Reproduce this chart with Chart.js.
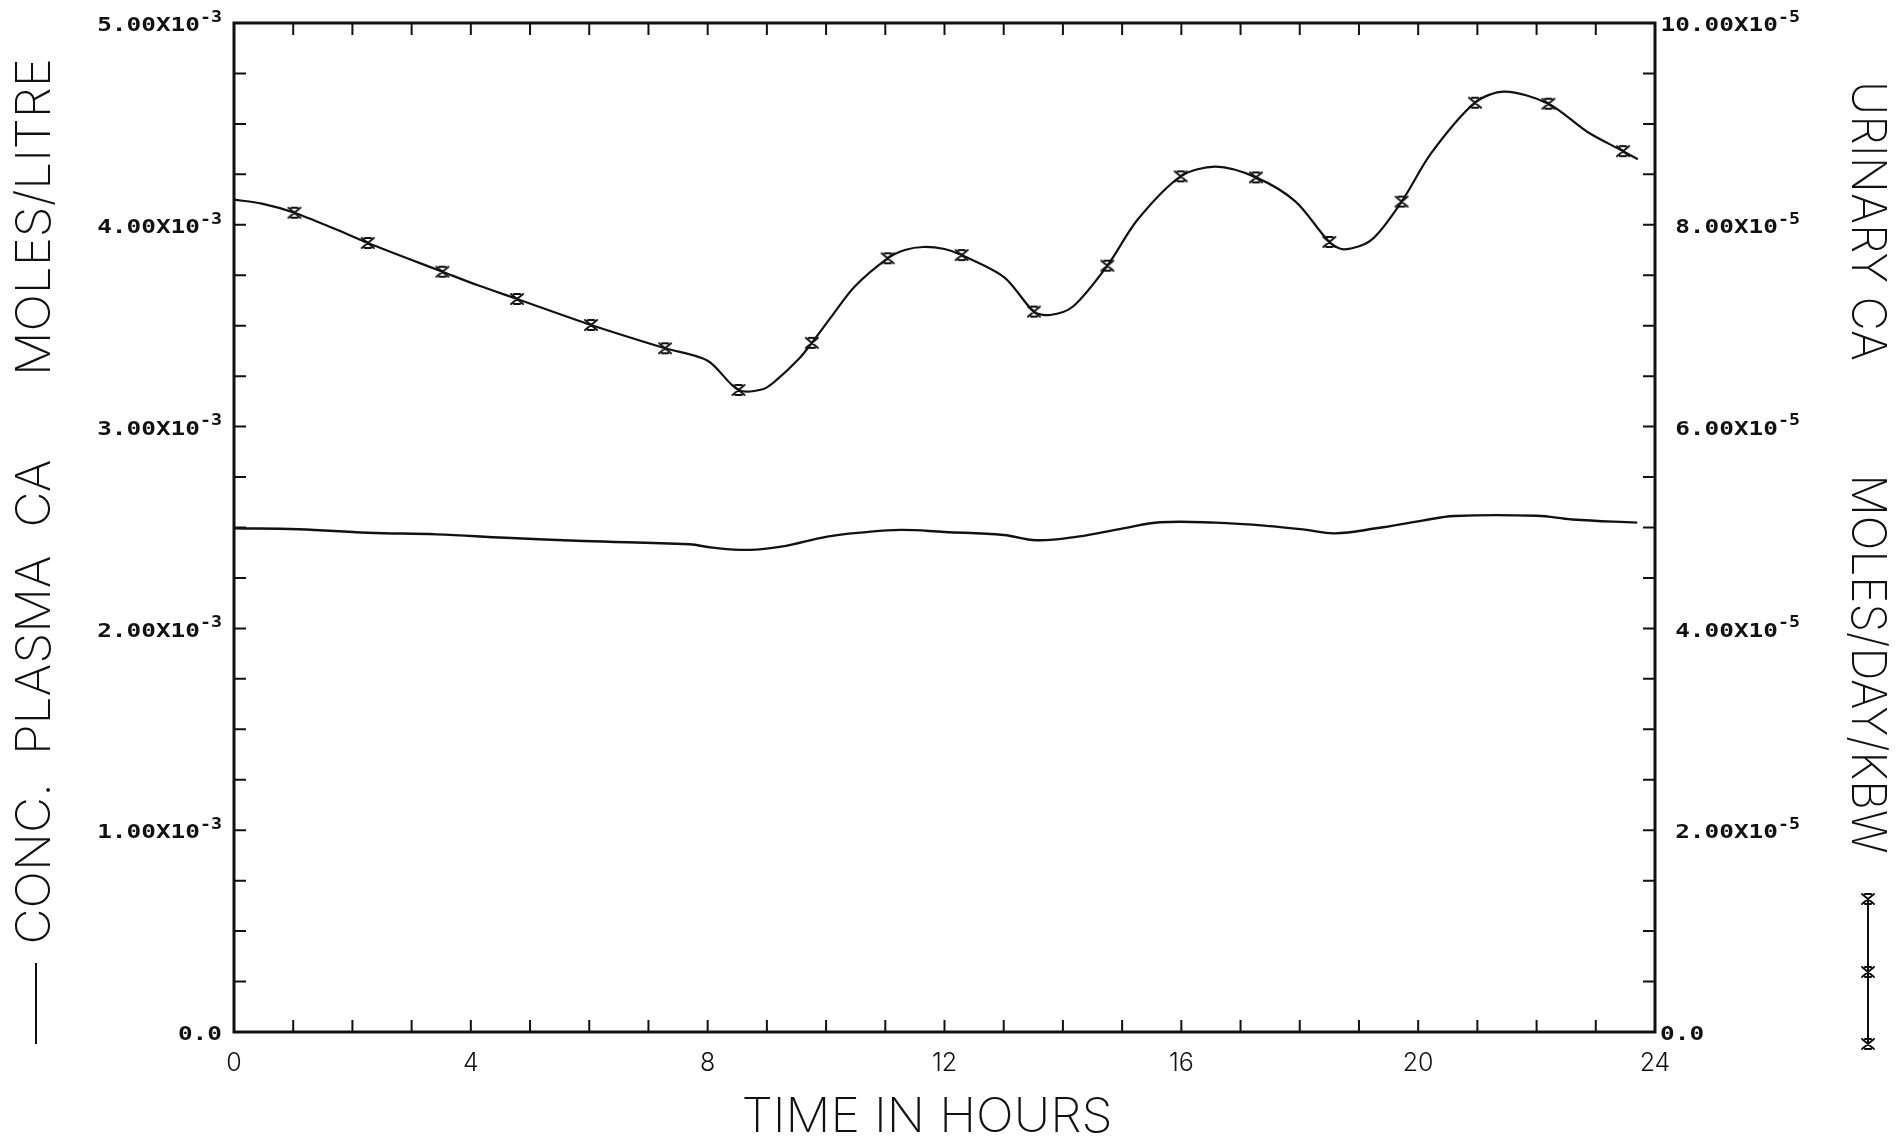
<!DOCTYPE html>
<html>
<head>
<meta charset="utf-8">
<title>Plasma and urinary calcium</title>
<script src="https://cdn.jsdelivr.net/npm/chart.js@4.4.0/dist/chart.umd.min.js"></script>
<style>
  html, body { margin: 0; padding: 0; background: #fff; }
  #wrap { width: 1900px; height: 1141px; }
</style>
</head>
<body>
<div id="wrap"><canvas id="myChart"></canvas></div>
<script>
// plasma Ca, moles/litre (left axis)
const plasmaHours = [0, 1.09, 2.26, 3.42, 4.59, 5.9, 7.69, 8.08, 8.7, 9.24, 10.02, 10.63, 11.26, 12.0,
    13.0, 13.55, 14.25, 15.02, 15.64, 16.57, 17.5, 18.12, 18.59, 19.29, 20.07, 20.61, 22.0, 22.6, 23.7];
const plasmaConc = [2.496e-3, 2.491e-3, 2.474e-3, 2.466e-3, 2.449e-3, 2.433e-3, 2.417e-3, 2.400e-3, 2.389e-3,
    2.405e-3, 2.455e-3, 2.476e-3, 2.488e-3, 2.478e-3, 2.463e-3, 2.437e-3, 2.455e-3, 2.496e-3, 2.526e-3,
    2.524e-3, 2.507e-3, 2.488e-3, 2.471e-3, 2.496e-3, 2.534e-3, 2.557e-3, 2.558e-3, 2.540e-3, 2.524e-3];

// urinary Ca, moles/day/kBW (right axis) - traced curve
const urineHours = [0, 0.47, 1.02, 1.72, 2.26, 3.52, 4.12, 4.78, 6.03, 7.28, 8.0, 8.52, 8.93, 9.16, 9.55,
    9.76, 10.09, 10.48, 11.04, 11.33, 11.64, 12.0, 12.29, 13.01, 13.51, 13.78, 14.17, 14.75, 15.26, 15.99,
    16.58, 17.26, 17.93, 18.5, 18.75, 19.21, 19.72, 20.22, 20.96, 21.46, 22.2, 22.86, 23.46, 23.71];
const urineRate = [8.25e-5, 8.21e-5, 8.12e-5, 7.955e-5, 7.82e-5, 7.535e-5, 7.40e-5, 7.265e-5, 7.007e-5,
    6.776e-5, 6.653e-5, 6.363e-5, 6.37e-5, 6.46e-5, 6.677e-5, 6.83e-5, 7.09e-5, 7.387e-5, 7.668e-5,
    7.75e-5, 7.78e-5, 7.76e-5, 7.70e-5, 7.48e-5, 7.14e-5, 7.106e-5, 7.19e-5, 7.595e-5, 8.05e-5, 8.48e-5,
    8.576e-5, 8.47e-5, 8.23e-5, 7.83e-5, 7.757e-5, 7.85e-5, 8.23e-5, 8.71e-5, 9.21e-5, 9.32e-5, 9.20e-5,
    8.92e-5, 8.73e-5, 8.65e-5];

// urinary Ca sample points (x markers)
const sampleHours = [1.02, 2.26, 3.52, 4.78, 6.03, 7.28, 8.52, 9.76, 11.04, 12.29, 13.51, 14.75, 15.99,
    17.26, 18.5, 19.72, 20.96, 22.2, 23.46];
const sampleRate = [8.12e-5, 7.82e-5, 7.535e-5, 7.265e-5, 7.007e-5, 6.776e-5, 6.363e-5, 6.83e-5, 7.668e-5,
    7.70e-5, 7.14e-5, 7.595e-5, 8.48e-5, 8.47e-5, 7.83e-5, 8.23e-5, 9.21e-5, 9.20e-5, 8.73e-5];

// axis labels
const hourTicks = [0, 4, 8, 12, 16, 20, 24];
const plasmaTicks = [0, 1e-3, 2e-3, 3e-3, 4e-3, 5e-3];
const plasmaTickText = ['0.0', '1.00X10', '2.00X10', '3.00X10', '4.00X10', '5.00X10'];
const plasmaTickExp = ['', '-3', '-3', '-3', '-3', '-3'];
const urineTicks = [0, 2e-5, 4e-5, 6e-5, 8e-5, 10e-5];
const urineTickText = ['0.0', '2.00X10', '4.00X10', '6.00X10', '8.00X10', '10.00X10'];
const urineTickExp = ['', '-5', '-5', '-5', '-5', '-5'];

const INK = '#111';
const LABEL_FONT = '"DejaVu Sans Mono", "Liberation Mono", monospace';
const THIN_FONT = 'Inter, "Noto Sans", "DejaVu Sans", sans-serif';

function pts(xs, ys) {
    return xs.map(function(x, i) { return {x: x, y: ys[i]}; });
}

// "x" with short top and bottom bars, like the plotter symbol
function makeMarker() {
    var c = document.createElement('canvas');
    c.width = 16; c.height = 14;
    var g = c.getContext('2d');
    g.strokeStyle = INK;
    g.lineWidth = 2;
    g.lineCap = 'round';
    g.beginPath();
    g.moveTo(2, 2); g.lineTo(14, 12);
    g.moveTo(14, 2); g.lineTo(2, 12);
    g.moveTo(5, 2); g.lineTo(11, 2);
    g.moveTo(5, 12); g.lineTo(11, 12);
    g.stroke();
    return c;
}
var marker = makeMarker();

// text squeezed/stretched to a given length, optionally rotated
function fitText(ctx, text, x, y, len, rot, font) {
    ctx.save();
    ctx.translate(x, y);
    ctx.rotate(rot);
    ctx.font = font;
    var w = ctx.measureText(text).width;
    ctx.scale(len / w, 1);
    ctx.textAlign = 'center';
    ctx.textBaseline = 'middle';
    ctx.fillText(text, 0, 0);
    ctx.restore();
}

// "4.00X10" with a raised exponent; align 'right' ends at x, 'left' starts at x
function expLabel(ctx, main, exp, x, y, align) {
    var sx = 1.22;
    ctx.save();
    ctx.textBaseline = 'middle';
    ctx.textAlign = 'left';
    ctx.font = 'bold 20px ' + LABEL_FONT;
    var wm = ctx.measureText(main).width * sx;
    ctx.font = 'bold 15px ' + LABEL_FONT;
    var we = exp ? ctx.measureText(exp).width * sx : 0;
    var x0 = align === 'right' ? x - wm - we : x;
    ctx.font = 'bold 20px ' + LABEL_FONT;
    ctx.save();
    ctx.translate(x0, y + 3);
    ctx.scale(sx, 1);
    ctx.fillText(main, 0, 0);
    ctx.restore();
    if (exp) {
        ctx.font = 'bold 15px ' + LABEL_FONT;
        ctx.save();
        ctx.translate(x0 + wm, y - 5);
        ctx.scale(sx, 1);
        ctx.fillText(exp, 0, 0);
        ctx.restore();
    }
    ctx.restore();
}

const frame = {
    id: 'frame',
    afterDraw: function(chart) {
        var ctx = chart.ctx;
        var a = chart.chartArea;
        var sx = chart.scales.x, sy = chart.scales.y, sy2 = chart.scales.y2;
        ctx.save();
        ctx.strokeStyle = INK;
        ctx.fillStyle = INK;

        // box
        ctx.lineWidth = 3;
        ctx.strokeRect(a.left, a.top, a.right - a.left, a.bottom - a.top);

        // inward ticks
        ctx.lineWidth = 2;
        ctx.beginPath();
        for (var h = 1; h < 24; h++) {
            var px = sx.getPixelForValue(h);
            ctx.moveTo(px, a.bottom); ctx.lineTo(px, a.bottom - 12);
            ctx.moveTo(px, a.top); ctx.lineTo(px, a.top + 12);
        }
        for (var k = 1; k < 20; k++) {
            var pl = sy.getPixelForValue(k * 0.25e-3);
            ctx.moveTo(a.left, pl); ctx.lineTo(a.left + 12, pl);
            var pr = sy2.getPixelForValue(k * 0.5e-5);
            ctx.moveTo(a.right, pr); ctx.lineTo(a.right - 12, pr);
        }
        ctx.stroke();

        // tick labels
        plasmaTicks.forEach(function(v, i) {
            expLabel(ctx, plasmaTickText[i], plasmaTickExp[i], a.left - 12, sy.getPixelForValue(v), 'right');
        });
        urineTicks.forEach(function(v, i) {
            if (urineTickExp[i]) {
                expLabel(ctx, urineTickText[i], urineTickExp[i], a.right + 145, sy2.getPixelForValue(v), 'right');
            } else {
                expLabel(ctx, urineTickText[i], '', a.right + 5, sy2.getPixelForValue(v), 'left');
            }
        });
        ctx.font = '300 25px ' + THIN_FONT;
        ctx.textAlign = 'center';
        ctx.textBaseline = 'middle';
        hourTicks.forEach(function(h) {
            ctx.fillText(String(h), sx.getPixelForValue(h), a.bottom + 31);
        });

        // axis titles
        var thin = '200 48px ' + THIN_FONT;
        fitText(ctx, 'TIME IN HOURS', 927, 1118, 371, 0, thin);
        fitText(ctx, 'MOLES/LITRE', 36, 217, 318, -Math.PI / 2, thin);
        fitText(ctx, 'CONC.  PLASMA  CA', 36, 702, 485, -Math.PI / 2, thin);
        fitText(ctx, 'URINARY CA', 1866, 221, 280, Math.PI / 2, thin);
        fitText(ctx, 'MOLES/DAY/KBW', 1866, 664, 379, Math.PI / 2, thin);

        // series keys beside the titles
        ctx.lineWidth = 2;
        ctx.beginPath();
        ctx.moveTo(36, 963); ctx.lineTo(36, 1044);
        ctx.moveTo(1868, 899); ctx.lineTo(1868, 1044);
        ctx.stroke();
        [899, 972, 1044].forEach(function(y) {
            ctx.drawImage(marker, 1868 - 8, y - 7);
        });
        ctx.restore();
    }
};

const ctx = document.getElementById('myChart');
new Chart(ctx, {
    type: 'line',
    data: {
        datasets: [{
            label: 'Conc. plasma Ca',
            data: pts(plasmaHours, plasmaConc),
            yAxisID: 'y',
            borderColor: INK,
            borderWidth: 2.4,
            pointRadius: 0,
            tension: 0.4
        },
        {
            label: 'Urinary Ca',
            data: pts(urineHours, urineRate),
            yAxisID: 'y2',
            borderColor: INK,
            borderWidth: 2.2,
            pointRadius: 0,
            tension: 0.3
        },
        {
            label: 'Urinary Ca samples',
            data: pts(sampleHours, sampleRate),
            yAxisID: 'y2',
            showLine: false,
            pointStyle: marker,
            pointRadius: 7
        }]
    },
    options: {
        responsive: true,
        maintainAspectRatio: false,
        animation: false,
        layout: { padding: { top: 23, left: 0, right: 0, bottom: 0 } },
        plugins: {
            legend: { display: false },
            tooltip: { enabled: false }
        },
        scales: {
            x: {
                type: 'linear',
                min: 0,
                max: 24,
                ticks: { display: false },
                grid: { display: false },
                border: { display: false },
                afterFit: function(s) { s.height = 109; }
            },
            y: {
                position: 'left',
                min: 0,
                max: 5e-3,
                ticks: { display: false },
                grid: { display: false },
                border: { display: false },
                afterFit: function(s) { s.width = 234; }
            },
            y2: {
                position: 'right',
                min: 0,
                max: 10e-5,
                ticks: { display: false },
                grid: { display: false },
                border: { display: false },
                afterFit: function(s) { s.width = 245; }
            }
        }
    },
    plugins: [frame]
});
</script>
</body>
</html>
